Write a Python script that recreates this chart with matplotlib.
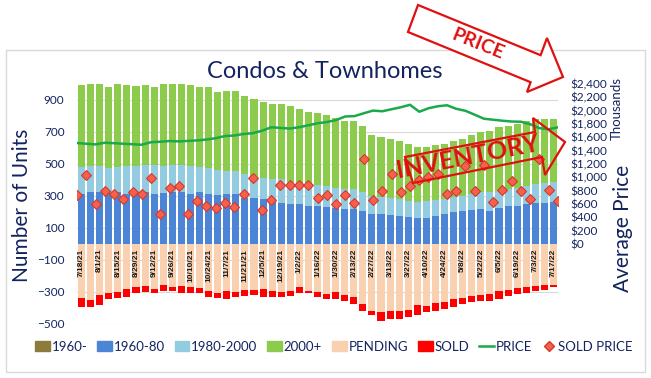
import numpy as np
import pandas as pd
import matplotlib
matplotlib.use("Agg")
import matplotlib.pyplot as plt
from matplotlib.patches import Patch, Polygon, Rectangle
from matplotlib.lines import Line2D
from matplotlib.ticker import FuncFormatter

plt.rcParams['font.family'] = ['Lato', 'DejaVu Sans']

# weekly snapshots 7/18/21 .. 7/17/22
weeks = pd.date_range("2021-07-18", periods=53, freq="7D")
week_labels = [f"{d.month}/{d.day}/{d:%y}" for d in weeks]

v1960 = [3] * 53
v1960_80 = [312, 319, 323, 317, 319, 312, 317, 319, 312, 315, 319, 319, 312,
            319, 312, 304, 312, 312, 287, 283, 277, 262, 256, 250, 246, 235, 235,
            229, 221, 215, 215, 204, 183, 187, 179, 173, 167, 162, 158, 173,
            187, 194, 204, 210, 215, 204, 225, 235, 235, 250, 256, 256, 262]
v1980_2000 = [167, 166, 162, 158, 160, 173, 168, 173, 180, 170, 171, 173, 173,
              160, 159, 154, 142, 142, 146, 140, 135, 140, 146, 137, 129, 136, 132,
              131, 129, 125, 125, 115, 115, 105, 104, 104, 100, 100, 109, 98,
              90, 98, 94, 98, 104, 115, 104, 105, 115, 110, 115, 125, 123]
v2000 = [513, 517, 517, 506, 517, 507, 500, 500, 489, 517, 512, 510, 503,
         502, 510, 492, 500, 500, 490, 479, 475, 473, 473, 473, 465, 452, 448,
         444, 433, 423, 427, 416, 381, 375, 369, 365, 354, 344, 339, 344,
         348, 350, 358, 371, 375, 385, 400, 395, 400, 407, 410, 400, 396]
pending = [337, 348, 317, 306, 300, 279, 271, 265, 279, 254, 271, 265, 271,
           275, 292, 306, 296, 300, 288, 290, 279, 292, 300, 292, 271, 292, 300,
           312, 302, 317, 333, 375, 417, 427, 417, 417, 410, 379, 390, 369,
           362, 342, 337, 327, 321, 312, 296, 285, 275, 271, 265, 254, 254]
sold = [55, 46, 62, 38, 37, 52, 37, 33, 29, 38, 21, 41, 37,
        31, 37, 31, 46, 29, 39, 31, 54, 37, 33, 33, 37, 16, 33,
        30, 40, 37, 42, 42, 29, 56, 50, 50, 44, 67, 37, 48,
        42, 54, 38, 35, 37, 42, 46, 42, 37, 35, 27, 33, 17]
price = [1515, 1504, 1494, 1519, 1512, 1504, 1497, 1489, 1527, 1534, 1545, 1539, 1546,
         1554, 1567, 1587, 1620, 1627, 1650, 1662, 1699, 1751, 1741, 1732, 1751, 1780, 1811,
         1829, 1859, 1913, 1918, 1961, 2001, 1991, 2021, 2051, 2088, 1984, 2036, 2066,
         2081, 2028, 1998, 1939, 1879, 1864, 1849, 1837, 1834, 1796, 1737, 1722, 1751]
sold_price = [731, 1030, 596, 791, 751, 676, 781, 751, 995, 457, 835, 865, 457,
              650, 571, 542, 616, 561, 746, 991, 516, 666, 891, 881, 881, 881, 696,
              741, 596, 731, 611, 1270, 661, 801, 1051, 786, 866, 965, 1000, 1051,
              751, 801, 1165, 801, 1185, 630, 816, 950, 801, 670, 1275, 816, 646]

navy = '#13235F'
c1960 = '#8C7B3C'
c6080 = '#4C84D6'
c8000 = '#93CCE0'
c2000 = '#8CCB4C'
cpend = '#F9D0B0'
csold = '#FF0000'
cline = '#1BA94C'

W, H = 651, 378
fig = plt.figure(figsize=(W / 100, H / 100), dpi=100)

def fx(px):
    return px / W

def fy(py):
    return 1 - py / H

ax = fig.add_axes([fx(77), fy(324), fx(558) - fx(77), fy(84) - fy(324)])
x = np.arange(len(weeks))
bw = 0.78

b0 = np.array(v1960)
b1 = b0 + np.array(v1960_80)
b2 = b1 + np.array(v1980_2000)
ax.bar(x, v1960, bw, color=c1960, zorder=2)
ax.bar(x, v1960_80, bw, bottom=b0, color=c6080, zorder=2)
ax.bar(x, v1980_2000, bw, bottom=b1, color=c8000, zorder=2)
ax.bar(x, v2000, bw, bottom=b2, color=c2000, zorder=2)
ax.bar(x, -np.array(pending), bw, color=cpend, zorder=2)
ax.bar(x, -np.array(sold), bw, bottom=-np.array(pending), color=csold, zorder=2)

ax.set_xlim(-0.5, len(weeks) - 0.5)
ax.set_ylim(-500, 1000)
ax.set_yticks(range(-500, 1000, 200))
ax.set_xticks([])
ax.grid(axis='y', color='#D9D9D9', linewidth=0.8, zorder=0)
ax.set_axisbelow(True)
for s in ax.spines.values():
    s.set_visible(False)
ax.tick_params(axis='y', length=0, pad=9, labelsize=8.5, labelcolor=navy)

for i in range(0, len(weeks), 2):
    ax.text(x[i], -30, week_labels[i], rotation=90, ha='center', va='top',
            fontsize=6, fontweight='bold', family='Liberation Sans',
            color='#1A1A1A', zorder=3)

ax2 = ax.twinx()
# line series sits on tick marks: spans the whole plot width
xl = np.linspace(-0.5, len(weeks) - 0.5, len(weeks))
ax2.plot(xl, price, color=cline, lw=1.8, zorder=4)
ax2.plot(xl, sold_price, ls='none', marker='D', ms=5.5, mfc='#F5604F',
         mec='#D23A2C', mew=0.8, zorder=5)
ax2.set_ylim(-1200, 2400)
ax2.set_yticks(range(0, 2401, 200))
ax2.yaxis.set_major_formatter(FuncFormatter(lambda v, p: f"${v:,.0f}"))
for s in ax2.spines.values():
    s.set_visible(False)
ax2.tick_params(axis='y', length=0, pad=9, labelsize=8.5, labelcolor=navy)

fig.text(fx(325), fy(72), "Condos & Townhomes", ha='center', va='center',
         fontsize=17, color=navy)
fig.text(fx(22), fy(205), "Number of Units", rotation=90, ha='center',
         va='center', fontsize=15, color=navy)
fig.text(fx(623), fy(228), "Average Price", rotation=90, ha='center',
         va='center', fontsize=15, color=navy)
fig.text(fx(617), fy(108), "Thousands", rotation=90, ha='center',
         va='center', fontsize=9.5, color=navy)

fig.patches.append(Rectangle((fx(6), fy(372)), fx(645) - fx(6), fy(50) - fy(372),
                             transform=fig.transFigure, fill=False,
                             edgecolor='#D9D9D9', lw=1, zorder=0))

handles = [Patch(color=c1960), Patch(color=c6080), Patch(color=c8000),
           Patch(color=c2000), Patch(color=cpend), Patch(color=csold),
           Line2D([], [], color=cline, lw=1.8),
           Line2D([], [], ls='none', marker='D', ms=5.5, mfc='#F5604F', mec='#D23A2C')]
names = ["1960-", "1960-80", "1980-2000", "2000+", "PENDING", "SOLD", "PRICE", "SOLD PRICE"]
fig.legend(handles, names, loc='center', bbox_to_anchor=(fx(334), fy(347)), ncol=8,
           frameon=False, fontsize=9.5, handlelength=1.1, handleheight=0.8,
           handletextpad=0.15, columnspacing=0.75, labelcolor=navy,
           borderpad=0, borderaxespad=0)

# callout arrows
price_arrow = [(418, 5), (540.6, 55.2), (547, 38), (563, 77), (527, 92), (530.6, 82.2), (408, 32)]
fig.patches.append(Polygon([(fx(a), fy(b)) for a, b in price_arrow], closed=True,
                           transform=fig.transFigure, facecolor='white',
                           edgecolor='#E01010', lw=1.6, zorder=10))
fig.text(fx(478), fy(44), "PRICE", rotation=-22, ha='center', va='center',
         fontsize=14, fontweight='bold', color='#E01010', zorder=11)

inv_arrow = [(405, 157), (535, 132), (533, 118), (565, 142), (545, 175), (542, 157), (413, 183)]
fig.patches.append(Polygon([(fx(a), fy(b)) for a, b in inv_arrow], closed=True,
                           transform=fig.transFigure, fill=False,
                           edgecolor='#E01010', lw=1.6, zorder=10))
fig.text(fx(468), fy(157), "INVENTORY", rotation=11, ha='center', va='center',
         fontsize=18, fontweight='bold', color='#E01010', zorder=11)

fig.savefig("out.png", dpi=100)
